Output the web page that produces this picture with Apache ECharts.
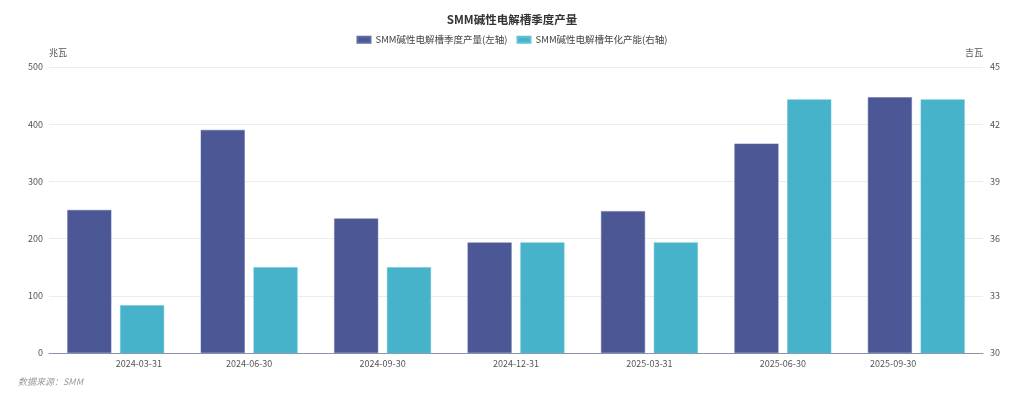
<!DOCTYPE html>
<html>
<head>
<meta charset="utf-8">
<script src="https://cdn.jsdelivr.net/npm/echarts@6/dist/echarts.min.js"></script>
<style>
  html, body { margin: 0; padding: 0; background: #fff; }
  #main { width: 1024px; height: 399px; }
</style>
</head>
<body>
<div id="main"></div>
<script>
var dates = ['2024-03-31', '2024-06-30', '2024-09-30', '2024-12-31', '2025-03-31', '2025-06-30', '2025-09-30'];
// 季度产量，兆瓦（左轴）
var quarterOutput = [250, 390, 235, 193, 248, 366, 447];
// 年化产能，吉瓦（右轴）
var annualCapacity = [32.5, 34.5, 34.5, 35.8, 35.8, 43.3, 43.3];

var seriesNames = ['SMM碱性电解槽季度产量(左轴)', 'SMM碱性电解槽年化产能(右轴)'];
var fontFamily = '"Noto Sans CJK SC", "Noto Sans", sans-serif';

var option = {
    backgroundColor: '#fff',
    color: ['#4c5796', '#46b3cb'],
    textStyle: { fontFamily: fontFamily },
    title: {
        text: 'SMM碱性电解槽季度产量',
        left: 'center',
        top: 9,
        textStyle: { fontSize: 11.5, fontWeight: 'bold', color: '#333', fontFamily: fontFamily }
    },
    legend: {
        top: 30,
        left: 'center',
        icon: 'rect',
        itemWidth: 13,
        itemHeight: 6,
        itemGap: 9,
        textStyle: { fontSize: 9.5, color: '#444' },
        data: seriesNames
    },
    grid: {
        left: 49,
        right: 41,
        top: 67,
        bottom: 46,
        containLabel: false
    },
    xAxis: {
        type: 'category',
        data: dates,
        axisLine: { lineStyle: { color: '#8d92a8' } },
        axisTick: { show: false },
        axisLabel: {
            color: '#555',
            fontSize: 9,
            margin: 6,
            alignMinLabel: 'left',
            alignMaxLabel: 'right'
        }
    },
    yAxis: [
        {
            type: 'value',
            name: '兆瓦',
            nameLocation: 'end',
            nameGap: 10,
            nameTextStyle: { color: '#555', fontSize: 9, align: 'left' },
            min: 0,
            max: 500,
            interval: 100,
            axisLine: { show: false },
            axisTick: { show: false },
            axisLabel: { color: '#555', fontSize: 9, margin: 6 },
            splitLine: { lineStyle: { color: '#ececec' } }
        },
        {
            type: 'value',
            name: '吉瓦',
            nameLocation: 'end',
            nameGap: 10,
            nameTextStyle: { color: '#555', fontSize: 9, align: 'right' },
            min: 30,
            max: 45,
            interval: 3,
            axisLine: { show: false },
            axisTick: { show: false },
            axisLabel: { color: '#555', fontSize: 9, margin: 7 },
            splitLine: { show: false }
        }
    ],
    graphic: [
        {
            type: 'text',
            left: 18,
            top: 377,
            style: {
                text: '数据来源：SMM',
                fill: '#999',
                font: 'italic 9px ' + fontFamily
            }
        }
    ],
    series: [
        {
            name: seriesNames[0],
            type: 'bar',
            yAxisIndex: 0,
            data: quarterOutput,
            barWidth: 44,
            barGap: '20%',
            itemStyle: { borderColor: '#5f6aa3', borderWidth: 0.5 }
        },
        {
            name: seriesNames[1],
            type: 'bar',
            yAxisIndex: 1,
            data: annualCapacity,
            barWidth: 44,
            barGap: '20%',
            itemStyle: { borderColor: '#62c1d5', borderWidth: 0.5 }
        }
    ]
};

var myChart = echarts.init(document.getElementById('main'));
myChart.setOption(option);
</script>
</body>
</html>
